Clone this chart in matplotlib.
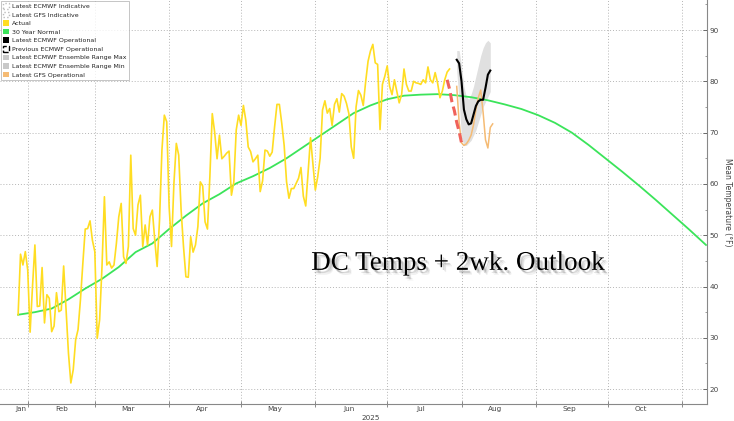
import matplotlib
matplotlib.use('Agg')
import matplotlib.pyplot as plt
import matplotlib.dates as mdates
import matplotlib.patheffects as pe
from matplotlib.patches import Patch
import pandas as pd

# daily mean temperature in DC, actual, from Jan 28 2025
actual_start = '2025-01-28'
actual = [34.5, 46.3, 44.2, 46.8, 43.2, 31.1, 40.0, 48.1, 36.1, 36.2,
          43.7, 32.9, 38.4, 37.7, 31.2, 32.3, 38.8, 35.1, 35.4, 44.0,
          35.4, 27.0, 21.2, 23.8, 29.6, 31.6, 37.4, 44.5, 51.2, 51.3,
          52.8, 49.0, 46.8, 29.9, 33.5, 43.9, 57.5, 44.2, 44.8, 43.6,
          44.2, 48.4, 53.6, 56.2, 45.8, 44.5, 47.8, 65.6, 51.3, 50.0,
          55.9, 57.8, 47.8, 52.0, 48.1, 53.6, 54.9, 49.1, 43.9, 53.0,
          66.6, 73.4, 72.1, 55.6, 47.8, 60.1, 67.9, 65.6, 54.9, 47.8,
          41.9, 41.8, 49.7, 46.7, 48.1, 51.7, 60.4, 59.6, 52.6, 51.2,
          61.4, 73.7, 70.1, 64.9, 69.5, 64.9, 65.4, 66.0, 66.4, 57.8,
          60.4, 70.5, 73.4, 71.4, 75.3, 72.4, 67.2, 66.3, 64.3, 64.9,
          65.6, 58.5, 60.6, 66.6, 66.4, 65.4, 66.2, 71.1, 75.5, 75.5,
          71.8, 67.5, 60.4, 57.2, 59.1, 59.1, 60.1, 61.1, 63.2, 57.6,
          55.7, 62.4, 69.0, 64.0, 58.8, 61.4, 65.0, 74.4, 76.2, 73.8,
          74.7, 71.4, 75.5, 76.6, 74.0, 77.6, 77.1, 75.7, 73.7, 67.2,
          65.0, 75.0, 78.2, 77.3, 75.3, 79.9,
          83.9, 85.9, 87.2, 83.6, 83.3, 70.6, 79.4, 81.0, 83.0, 79.0,
          77.4, 80.3, 78.1, 75.8, 77.4, 82.4, 79.4, 78.1, 78.1, 80.0,
          79.7, 79.6, 79.4, 80.3, 79.7, 82.8, 80.3, 79.7, 81.7, 79.7,
          76.8, 78.1, 80.3, 81.8, 82.4]

# 30 year normal, weekly values from Jan 28
normal_start = '2025-01-28'
normal = [34.5, 35.0, 35.7, 37.5, 39.6, 41.5, 43.8, 46.7, 48.4, 51.2,
          53.8, 56.2, 58.0, 60.1, 61.5, 63.1, 65.0, 67.2, 69.4, 71.6,
          73.8, 75.3, 76.5, 77.2, 77.4, 77.5, 77.3, 76.9, 76.3, 75.5,
          74.6, 73.4, 71.9, 70.0, 67.6, 65.0, 62.4, 59.7, 56.9, 54.0,
          51.1, 48.1]

# forecasts
fcst_start = '2025-07-30'
ecmwf_op = [84.2, 83.5, 80.0, 74.5, 72.6, 71.6, 71.8, 73.5, 75.2, 76.1,
            76.4, 76.4, 78.7, 81.3, 82.1]
ens_max = [86.0, 86.0, 83.0, 79.0, 77.0, 76.5, 77.5, 79.0, 81.0, 83.0,
           85.0, 86.5, 87.5, 88.0, 87.5]
ens_min = [82.0, 76.0, 69.0, 67.5, 67.5, 68.0, 68.5, 69.5, 70.5, 72.0,
           73.5, 75.0, 76.0, 77.0, 78.0]
gfs_op = [79.0, 72.0, 68.0, 67.5, 67.8, 68.5, 69.5, 71.5, 74.5, 76.8,
          78.3, 74.0, 68.6, 67.0, 71.0, 71.7]
prev_start = '2025-07-26'
prev_ecmwf = [80.3, 78.5, 76.0, 74.3, 72.0, 70.2, 68.0]

yellow = '#ffdd22'
green = '#3be45a'
orange = '#f5bb74'

d_actual = pd.date_range(actual_start, periods=len(actual), freq='D')
d_normal = pd.date_range(normal_start, periods=len(normal), freq='7D')
d_fcst = pd.date_range(fcst_start, periods=len(ecmwf_op), freq='D')
d_gfs = pd.date_range(fcst_start, periods=len(gfs_op), freq='D')
d_prev = pd.date_range(prev_start, periods=len(prev_ecmwf), freq='D')

fig = plt.figure(figsize=(7.34, 4.21), dpi=100)
ax = fig.add_axes([0.0, 0.0404, 0.9632, 0.9596])

ax.fill_between(d_fcst, ens_min, ens_max, color='#e0e0e0', lw=0, zorder=2)
ax.plot(d_normal, normal, color=green, lw=1.3, zorder=3)
ax.plot(d_actual, actual, color=yellow, lw=1.2, zorder=4)
ax.plot(d_gfs, gfs_op, color=orange, lw=1.1, zorder=5)
ax.plot(d_prev, prev_ecmwf, color='#f0625a', lw=2.2, ls=(0, (3, 1.5)), zorder=6)
ax.plot(d_fcst, ecmwf_op, color='black', lw=1.5, zorder=7)

ax.set_xlim(pd.Timestamp('2025-01-20 10:30'), pd.Timestamp('2025-11-11 10:00'))
ax.set_ylim(17.1, 95.85)

# month boundaries as major ticks, labels at mid month
ax.xaxis.set_major_locator(mdates.MonthLocator())
ax.xaxis.set_major_formatter(plt.NullFormatter())
mids = [pd.Timestamp('2025-01-29')] + [pd.Timestamp(2025, m, 15) for m in range(2, 11)]
ax.set_xticks(mids, minor=True)
ax.set_xticklabels(['Jan', 'Feb', 'Mar', 'Apr', 'May', 'Jun', 'Jul', 'Aug', 'Sep', 'Oct'],
                   minor=True)
ax.tick_params(axis='x', which='major', direction='inout', length=4, color='#777777', width=0.6)
ax.tick_params(axis='x', which='minor', length=0, pad=1.5, labelsize=5.2, labelcolor='#444444')
ax.text(pd.Timestamp('2025-06-24'), -0.035, '2025', transform=ax.get_xaxis_transform(),
        ha='center', va='center', fontsize=5.2, color='#444444')

ax.yaxis.tick_right()
ax.yaxis.set_label_position('right')
ax.set_yticks(range(20, 91, 10))
ax.set_yticks(range(20, 96, 5), minor=True)
ax.tick_params(axis='y', which='major', direction='in', length=3, color='#555555',
               width=0.6, pad=2, labelsize=5.2, labelcolor='#444444')
ax.tick_params(axis='y', which='minor', direction='in', length=1.5, color='#777777', width=0.5)
ax.set_ylabel('Mean Temperature (°F)', rotation=270, fontsize=5.5, color='#444444', labelpad=9)

ax.grid(True, which='major', color='#b5b5b5', ls=(0, (1, 2)), lw=0.7)
for s in ['top', 'left']:
    ax.spines[s].set_visible(False)
for s in ['right', 'bottom']:
    ax.spines[s].set_color('#888888')
    ax.spines[s].set_linewidth(0.8)

handles = [
    Patch(facecolor='white', edgecolor='#bbbbbb', ls=':', label='Latest ECMWF Indicative'),
    Patch(facecolor='white', edgecolor='#bbbbbb', ls=':', label='Latest GFS Indicative'),
    Patch(facecolor=yellow, label='Actual'),
    Patch(facecolor=green, label='30 Year Normal'),
    Patch(facecolor='black', label='Latest ECMWF Operational'),
    Patch(facecolor='white', edgecolor='black', ls='--', label='Previous ECMWF Operational'),
    Patch(facecolor='#c8c8c8', label='Latest ECMWF Ensemble Range Max'),
    Patch(facecolor='#c8c8c8', label='Latest ECMWF Ensemble Range Min'),
    Patch(facecolor=orange, label='Latest GFS Operational'),
]
leg = ax.legend(handles=handles, loc='upper left', bbox_to_anchor=(0.0, 1.0), fontsize=4.5,
                frameon=True, fancybox=False, handlelength=1.0, handleheight=1.0,
                handletextpad=0.4, labelspacing=0.42, borderpad=0.4, borderaxespad=0.1)
leg.get_frame().set_edgecolor('#aaaaaa')
leg.get_frame().set_linewidth(0.6)
for t in leg.get_texts():
    t.set_color('#222222')
leg.set_zorder(10)

ax.text(0.648, 0.332, 'DC Temps + 2wk. Outlook', transform=ax.transAxes,
        ha='center', va='baseline', fontsize=19.5, family='Liberation Serif', color='black',
        path_effects=[pe.SimplePatchShadow(offset=(2.5, -2.5), shadow_rgbFace='black', alpha=0.09),
                      pe.SimplePatchShadow(offset=(1.5, -2.0), shadow_rgbFace='black', alpha=0.15),
                      pe.SimplePatchShadow(offset=(3.0, -3.5), shadow_rgbFace='black', alpha=0.06),
                      pe.Normal()])

fig.savefig('out.png', dpi=100)
